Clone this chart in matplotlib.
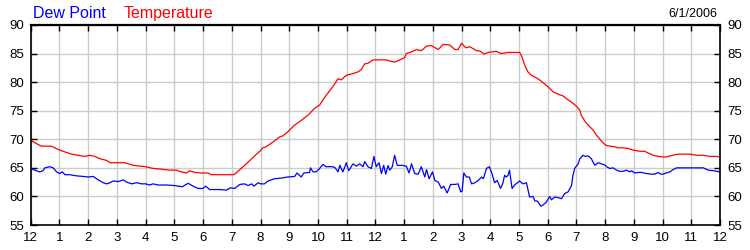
import matplotlib
matplotlib.use("Agg")
import matplotlib.pyplot as plt

plt.rcParams['font.family'] = ['Liberation Sans', 'DejaVu Sans']

# hours after midnight
temp_hours = [0.0, 0.14, 0.37, 0.72, 0.84, 1.01, 1.24, 1.42, 1.65, 1.88, 2.06, 2.23, 2.41, 2.64,
              2.76, 3.28, 3.40, 3.57, 3.80, 4.0, 4.26, 4.49, 4.84, 5.07, 5.24, 5.42, 5.53, 5.71,
              5.94, 6.17, 6.29, 7.05, 7.10, 7.40, 7.63, 7.86, 8.0, 8.08, 8.20, 8.43, 8.66, 8.78,
              8.95, 9.19, 9.42, 9.65, 9.88, 10.06, 10.23, 10.41, 10.52, 10.70, 10.81, 10.99,
              11.22, 11.40, 11.51, 11.63, 11.74, 11.92, 12.15, 12.38, 12.5, 12.67, 12.85, 13.02,
              13.08, 13.26, 13.43, 13.6, 13.78, 13.95, 14.19, 14.36, 14.59, 14.77, 14.88, 15.0,
              15.15, 15.29, 15.52, 15.64, 15.79, 15.93, 16.21, 16.38, 16.62, 17.02, 17.08, 17.2,
              17.31, 17.43, 17.66, 17.84, 18.01, 18.19, 18.36, 18.53, 18.71, 18.88, 19.0, 19.12,
              19.17, 19.29, 19.41, 19.58, 19.7, 19.87, 19.99, 20.05, 20.16, 20.34, 20.45, 20.63,
              20.8, 20.98, 21.21, 21.38, 21.5, 21.67, 21.85, 22.02, 22.14, 22.26, 22.43, 22.6,
              22.95, 23.19, 23.42, 23.65, 23.88, 24.0]
temp_values = [69.8, 69.4, 68.8, 68.8, 68.5, 68.1, 67.7, 67.4, 67.2, 67.0, 67.2, 67.0, 66.6, 66.3,
               65.9, 65.9, 65.7, 65.45, 65.3, 65.2, 64.9, 64.8, 64.6, 64.6, 64.3, 64.1, 64.5, 64.2,
               64.1, 64.1, 63.8, 63.8, 63.9, 65.2, 66.3, 67.4, 68.0, 68.5, 68.7, 69.5, 70.4, 70.6,
               71.3, 72.5, 73.3, 74.2, 75.4, 76.0, 77.3, 78.5, 79.2, 80.6, 80.4, 81.2,
               81.5, 81.8, 82.2, 83.2, 83.3, 83.9, 83.9, 83.9, 83.7, 83.5, 83.9, 84.3,
               85.0, 85.3, 85.7, 85.5, 86.3, 86.4, 85.7, 86.6, 86.5, 85.7, 85.7, 86.8,
               86.0, 86.2, 85.5, 85.45, 84.9, 85.2, 85.4, 85.0, 85.2, 85.2, 84.7, 83.0,
               81.8, 81.2, 80.6, 79.9, 79.2, 78.3, 77.9, 77.6, 76.9, 76.3, 75.8, 75.1,
               74.2, 73.2, 72.5, 71.6, 70.7, 69.7, 69.1, 68.9, 68.8, 68.7, 68.5, 68.5,
               68.4, 68.1, 67.9, 67.9, 67.6, 67.2, 67.0, 66.9, 66.9, 67.1, 67.3, 67.4,
               67.4, 67.2, 67.2, 67.0, 67.0, 66.9]

dew_hours = [0.0, 0.08, 0.2, 0.31, 0.43, 0.49, 0.66, 0.78, 0.9, 1.01, 1.1, 1.19, 1.36, 1.59, 1.83,
             2.0, 2.17, 2.35, 2.52, 2.64, 2.76, 2.87, 3.05, 3.22, 3.34, 3.51, 3.69, 3.86,
             4.0, 4.14, 4.26, 4.43, 4.72, 5.01, 5.13, 5.28, 5.48, 5.65, 5.83, 6.0, 6.09, 6.23,
             6.58, 6.81, 6.95, 7.1, 7.28, 7.45, 7.57, 7.69, 7.77, 7.92,
             8.0, 8.14, 8.26, 8.49, 8.72, 8.95, 9.19, 9.27, 9.42, 9.51, 9.71, 9.74, 9.83, 9.94,
             10.06, 10.17, 10.29, 10.52, 10.6, 10.7, 10.76, 10.87, 10.99, 11.07, 11.22, 11.34,
             11.45, 11.57, 11.63, 11.74, 11.86, 11.95,
             12.03, 12.13, 12.21, 12.29, 12.36, 12.44, 12.5, 12.59, 12.67, 12.76, 12.91, 13.08,
             13.17, 13.26, 13.37, 13.49, 13.6, 13.72, 13.78, 13.87, 13.99, 14.07, 14.19, 14.3,
             14.38, 14.5, 14.62, 14.77, 14.88, 14.97, 15.02, 15.08, 15.17, 15.27, 15.35, 15.47,
             15.58, 15.7, 15.76, 15.87, 15.97,
             16.06, 16.15, 16.24, 16.36, 16.44, 16.5, 16.56, 16.62, 16.67, 16.76, 16.85, 17.02,
             17.14, 17.26, 17.37, 17.49, 17.55, 17.64, 17.76, 17.84, 17.95, 18.07, 18.13, 18.24,
             18.36, 18.48, 18.59, 18.71, 18.83, 18.88, 18.94, 19.06, 19.12, 19.23, 19.31, 19.41,
             19.52, 19.64, 19.76, 19.87, 20.01,
             20.05, 20.16, 20.28, 20.4, 20.51, 20.63, 20.74, 20.86, 20.92, 21.03, 21.15, 21.27,
             21.44, 21.62, 21.73, 21.85, 21.93, 22.02, 22.12, 22.26, 22.37, 22.49, 23.42, 23.59,
             23.77, 24.0]
dew_values = [65.0, 64.7, 64.5, 64.3, 64.5, 65.0, 65.2, 65.0, 64.3, 64.0, 64.3, 63.8, 63.8, 63.6, 63.5,
              63.4, 63.5, 62.9, 62.4, 62.2, 62.4, 62.7, 62.6, 62.9, 62.5, 62.2, 62.4, 62.2,
              62.2, 62.0, 62.2, 62.0, 62.0, 61.9, 61.8, 61.7, 62.3, 61.8, 61.4, 61.4, 61.8, 61.2,
              61.2, 61.1, 61.5, 61.4, 62.1, 62.2, 61.9, 62.2, 61.8, 62.4,
              62.2, 62.2, 62.7, 63.1, 63.2, 63.4, 63.5, 64.1, 63.4, 64.1, 64.2, 65.0, 64.3, 64.3,
              64.9, 65.6, 65.2, 65.2, 65.0, 64.3, 65.45, 64.3, 65.9, 64.5, 65.7, 65.3,
              65.7, 65.2, 66.1, 65.2, 64.9, 67.0,
              65.2, 65.9, 64.0, 65.45, 63.9, 65.4, 64.6, 65.2, 67.2, 65.45, 65.45, 65.3,
              64.1, 65.7, 64.0, 63.9, 65.2, 63.4, 64.7, 63.1, 64.3, 62.8, 62.5, 61.4,
              61.8, 60.6, 62.1, 62.1, 62.2, 60.8, 60.9, 64.1, 63.4, 63.4, 62.2, 62.4,
              62.8, 63.4, 63.1, 64.9, 65.2,
              64.0, 62.4, 62.8, 61.4, 62.3, 63.7, 63.4, 63.7, 64.6, 61.4, 62.0, 62.7,
              62.2, 62.4, 59.9, 60.0, 59.2, 59.2, 58.3, 58.5, 59.0, 60.0, 59.4, 59.9,
              59.8, 59.6, 60.5, 60.8, 61.9, 63.7, 64.9, 65.7, 66.6, 67.2, 67.0, 67.1,
              66.6, 65.45, 65.9, 65.7, 65.45,
              65.2, 64.9, 65.0, 64.6, 64.4, 64.4, 64.6, 64.3, 64.5, 64.1, 64.2, 64.2,
              64.0, 63.9, 63.9, 64.2, 63.9, 63.9, 64.1, 64.3, 64.7, 65.0, 65.0, 64.6,
              64.5, 64.3]

hour_labels = ['12', '1', '2', '3', '4', '5', '6', '7', '8', '9', '10', '11',
               '12', '1', '2', '3', '4', '5', '6', '7', '8', '9', '10', '11', '12']
y_ticks = [55, 60, 65, 70, 75, 80, 85, 90]
date_label = '6/1/2006'

fig = plt.figure(figsize=(7.5, 2.5), dpi=100)
ax = fig.add_axes([0.041, 0.1, 0.919, 0.8])

ax.plot(dew_hours, dew_values, color='#0000ff', lw=0.9)
ax.plot(temp_hours, temp_values, color='#ff0000', lw=0.9)

ax.set_xlim(0, 24)
ax.set_ylim(55, 90)
ax.set_xticks(range(25))
ax.set_xticklabels(hour_labels)
ax.set_yticks(y_ticks)
ax.grid(True, color='#cccccc', lw=1.0)
ax.set_axisbelow(True)

ax.tick_params(direction='in', length=4, width=1, color='black', labelsize=9.5,
               top=True, right=True, labelright=True, pad=5)
ax.tick_params(axis='x', pad=5)
for s in ax.spines.values():
    s.set_linewidth(1.2)
    s.set_color('black')
ax.spines['top'].set_linewidth(1.6)

fig.text(0.044, 0.945, 'Dew Point', color='#0000ff', fontsize=11.5, va='center', ha='left')
fig.text(0.165, 0.945, 'Temperature', color='#ff0000', fontsize=11.5, va='center', ha='left')
fig.text(0.956, 0.943, date_label, color='black', fontsize=9, va='center', ha='right')

fig.savefig('out.png', dpi=100)
